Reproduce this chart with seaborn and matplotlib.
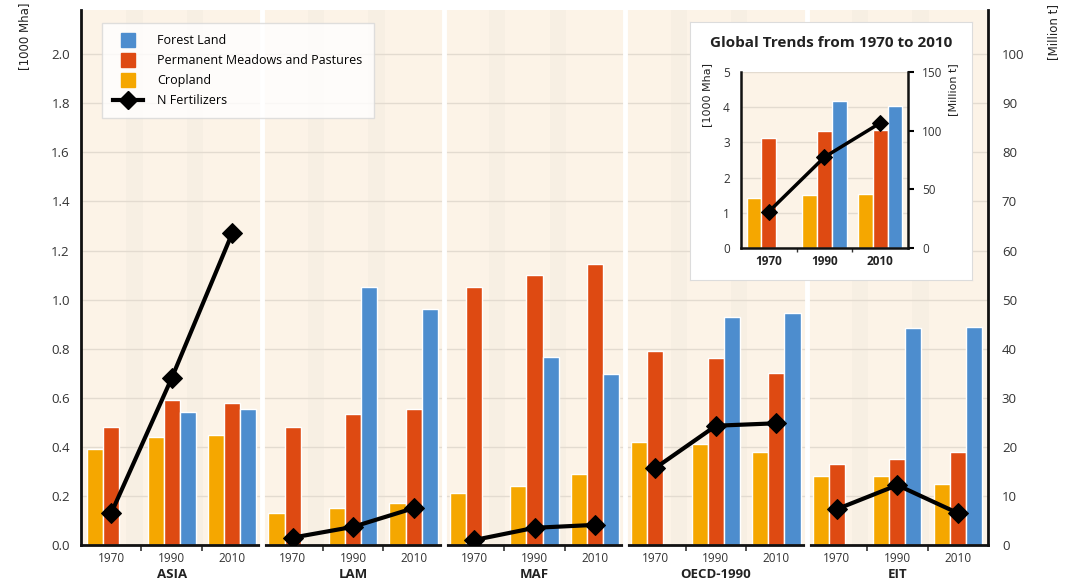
import numpy as np
import pandas as pd
import matplotlib
matplotlib.use("Agg")
import matplotlib.pyplot as plt
import seaborn as sns
from matplotlib.lines import Line2D

# Data
regions = ["ASIA", "LAM", "MAF", "OECD-1990", "EIT"]
years = ["1970", "1990", "2010"]
cropland = [0.39, 0.44, 0.45, 0.13, 0.15, 0.17, 0.21, 0.24, 0.29, 0.42, 0.41, 0.38, 0.28, 0.28, 0.25]
meadows = [0.48, 0.59, 0.58, 0.48, 0.535, 0.555, 1.05, 1.10, 1.145, 0.79, 0.76, 0.70, 0.33, 0.35, 0.38]
forest = [np.nan, 0.54, 0.555, np.nan, 1.05, 0.96, np.nan, 0.765, 0.695, np.nan, 0.93, 0.945, np.nan, 0.885, 0.89]
n_fert = [6.5, 34, 63.5, 1.5, 3.7, 7.5, 1.0, 3.5, 4.1, 15.7, 24.3, 24.8, 7.3, 12.2, 6.5]

global_years = ["1970", "1990", "2010"]
global_cropland = [1.42, 1.51, 1.52]
global_meadows = [3.13, 3.33, 3.35]
global_forest = [np.nan, 4.17, 4.04]
global_n_fert = [31, 77.5, 106.5]

land_types = ["Cropland", "Permanent Meadows and Pastures", "Forest Land"]
colors = {"Cropland": "#f5a700", "Permanent Meadows and Pastures": "#de4a12", "Forest Land": "#4d8dce"}
BG = "#fcf3e7"
GRID = "#e3dbd0"

plt.rcParams["font.family"] = ["Open Sans", "DejaVu Sans"]

# long-format tables
cats = [f"{r} {y}" for r in regions for y in years]
rows = []
for i, c in enumerate(cats):
    for lt, vals in zip(land_types, [cropland, meadows, forest]):
        rows.append({"cat": c, "type": lt, "value": vals[i]})
land_df = pd.DataFrame(rows)

nf_df = pd.DataFrame({
    "pos": np.arange(len(cats)),
    "value": n_fert,
    "region": [r for r in regions for _ in years],
})

g_rows = []
for i, y in enumerate(global_years):
    for lt, vals in zip(land_types, [global_cropland, global_meadows, global_forest]):
        g_rows.append({"year": y, "type": lt, "value": vals[i]})
g_df = pd.DataFrame(g_rows)

W, H = 1065, 582
fig = plt.figure(figsize=(W / 100, H / 100), dpi=100)
ax = fig.add_axes([81 / W, 1 - 545 / H, 907 / W, 535 / H])
ax.set_facecolor(BG)

sns.barplot(data=land_df, x="cat", y="value", hue="type", order=cats, hue_order=land_types,
            palette=colors, saturation=1, errorbar=None, width=0.8, edgecolor="white", linewidth=1,
            legend=False, ax=ax, zorder=2)

ax.set_ylim(0, 2.18)
ax.set_xlim(-0.5, len(cats) - 0.5)
ax.set_yticks(np.arange(0, 2.01, 0.2))
ax.set_yticklabels([f"{v:.1f}" for v in np.arange(0, 2.01, 0.2)], fontsize=9.5, color="#333333")
ax.yaxis.grid(True, color=GRID, linewidth=1)
ax.set_axisbelow(True)
ax.set_xticks(range(len(cats)))
ax.set_xticklabels([y for r in regions for y in years], fontsize=8.5, color="#333333")
ax.set_xticks([i + 0.5 for i in range(len(cats) - 1) if (i + 1) % 3 != 0], minor=True)
ax.tick_params(axis="x", which="major", length=0, pad=5)
ax.tick_params(axis="x", which="minor", length=4, width=1.2, color="#333333")
ax.tick_params(axis="y", length=0, pad=8)
ax.set_xlabel("")
ax.set_ylabel("")
for s in ["top", "right"]:
    ax.spines[s].set_visible(False)
for s in ["left", "bottom"]:
    ax.spines[s].set_linewidth(2)
    ax.spines[s].set_color("#111111")

# soft shading between year groups
for b in [i + 0.5 for i in range(len(cats) - 1) if (i + 1) % 3 != 0]:
    ax.axvspan(b - 0.25, b + 0.02, color="#e6e0d6", alpha=0.2, zorder=0.5, lw=0)

# white separators between regions
for k in range(1, len(regions)):
    ax.axvline(3 * k - 0.5, color="white", lw=3.5, zorder=3, ymin=-0.01, clip_on=False)

# region labels
for k, r in enumerate(regions):
    ax.text(3 * k + 1, -0.056, r, transform=ax.get_xaxis_transform(), ha="center", va="center",
            fontsize=9.5, fontweight="bold", color="#222222")

ax2 = ax.twinx()
sns.lineplot(data=nf_df, x="pos", y="value", units="region", estimator=None, color="black",
             lw=3, marker="D", markersize=10, markeredgecolor="black", legend=False, ax=ax2, zorder=4)
ax2.set_xlim(-0.5, len(cats) - 0.5)
ax2.set_ylim(0, 109)
ax2.set_yticks(range(0, 101, 10))
ax2.set_yticklabels([str(v) for v in range(0, 101, 10)], fontsize=9.5, color="#333333")
ax2.tick_params(axis="y", length=0, pad=10)
ax2.set_ylabel("")
ax2.set_xlabel("")
for s in ["top", "left", "bottom"]:
    ax2.spines[s].set_visible(False)
ax2.spines["right"].set_linewidth(2)
ax2.spines["right"].set_color("#111111")

fig.text(25 / W, 1 - 36 / H, "[1000 Mha]", rotation=90, ha="center", va="center", fontsize=8.5,
         family=["Liberation Sans Narrow", "DejaVu Sans"], color="#222222")
fig.text(1054 / W, 1 - 32 / H, "[Million t]", rotation=90, ha="center", va="center", fontsize=8.5,
         family=["Liberation Sans Narrow", "DejaVu Sans"], color="#222222")

# legend
handles = [Line2D([], [], ls="none", marker="s", markersize=10, color=colors["Forest Land"], label="Forest Land"),
           Line2D([], [], ls="none", marker="s", markersize=10, color=colors["Permanent Meadows and Pastures"],
                  label="Permanent Meadows and Pastures"),
           Line2D([], [], ls="none", marker="s", markersize=10, color=colors["Cropland"], label="Cropland"),
           Line2D([], [], color="black", lw=3, marker="D", markersize=9, label="N Fertilizers")]
leg = fig.legend(handles=handles, loc="upper left", bbox_to_anchor=(102 / W, 1 - 23 / H),
                 fontsize=9, frameon=True, fancybox=False, shadow=False, edgecolor="#d8d8d8",
                 borderpad=0.9, labelspacing=0.55, handlelength=2.4, handletextpad=1.1,
                 borderaxespad=0)
leg.get_frame().set_linewidth(1)
leg.set_zorder(10)

# inset box
box = fig.add_axes([690 / W, 1 - 280 / H, 282 / W, 258 / H])
box.set_facecolor("white")
box.set_xticks([])
box.set_yticks([])
for s in box.spines.values():
    s.set_color("#dcdcdc")
box.text(0.5, 0.92, "Global Trends from 1970 to 2010", transform=box.transAxes, ha="center",
         va="center", fontsize=11, fontweight="bold", color="#222222")

iax = fig.add_axes([741 / W, 1 - 248 / H, 167 / W, 176 / H])
iax.set_facecolor(BG)
sns.barplot(data=g_df, x="year", y="value", hue="type", order=global_years, hue_order=land_types,
            palette=colors, saturation=1, errorbar=None, width=0.8, edgecolor="white", linewidth=1,
            legend=False, ax=iax, zorder=2)
iax.set_ylim(0, 5)
iax.set_xlim(-0.5, 2.5)
iax.set_yticks(range(6))
iax.set_yticklabels([str(v) for v in range(6)], fontsize=8.5, color="#333333")
iax.yaxis.grid(True, color=GRID, linewidth=1)
iax.set_axisbelow(True)
iax.set_xticks(range(3))
iax.set_xticklabels(global_years, fontsize=8.5, fontweight="bold", color="#222222")
iax.set_xticks([0.5, 1.5], minor=True)
iax.tick_params(axis="x", which="major", length=0, pad=5)
iax.tick_params(axis="x", which="minor", length=3, width=1, color="#333333")
iax.tick_params(axis="y", length=0, pad=8)
iax.set_xlabel("")
iax.set_ylabel("")
for s in ["top", "right"]:
    iax.spines[s].set_visible(False)
for s in ["left", "bottom"]:
    iax.spines[s].set_linewidth(1.8)
    iax.spines[s].set_color("#111111")

iax2 = iax.twinx()
sns.lineplot(x=np.arange(3), y=global_n_fert, color="black", lw=2.5, marker="D", markersize=8,
             markeredgecolor="black", ax=iax2, zorder=4)
iax2.set_xlim(-0.5, 2.5)
iax2.set_ylim(0, 150)
iax2.set_yticks([0, 50, 100, 150])
iax2.set_yticklabels(["0", "50", "100", "150"], fontsize=8.5, color="#333333")
iax2.tick_params(axis="y", length=4, width=1.5, pad=6)
for s in ["top", "left", "bottom"]:
    iax2.spines[s].set_visible(False)
iax2.spines["right"].set_linewidth(1.8)
iax2.spines["right"].set_color("#111111")

fig.text(707 / W, 1 - 95 / H, "[1000 Mha]", rotation=90, ha="center", va="center", fontsize=8,
         family=["Liberation Sans Narrow", "DejaVu Sans"], color="#222222")
fig.text(953 / W, 1 - 90 / H, "[Million t]", rotation=90, ha="center", va="center", fontsize=8,
         family=["Liberation Sans Narrow", "DejaVu Sans"], color="#222222")

fig.savefig("out.png", dpi=100)
